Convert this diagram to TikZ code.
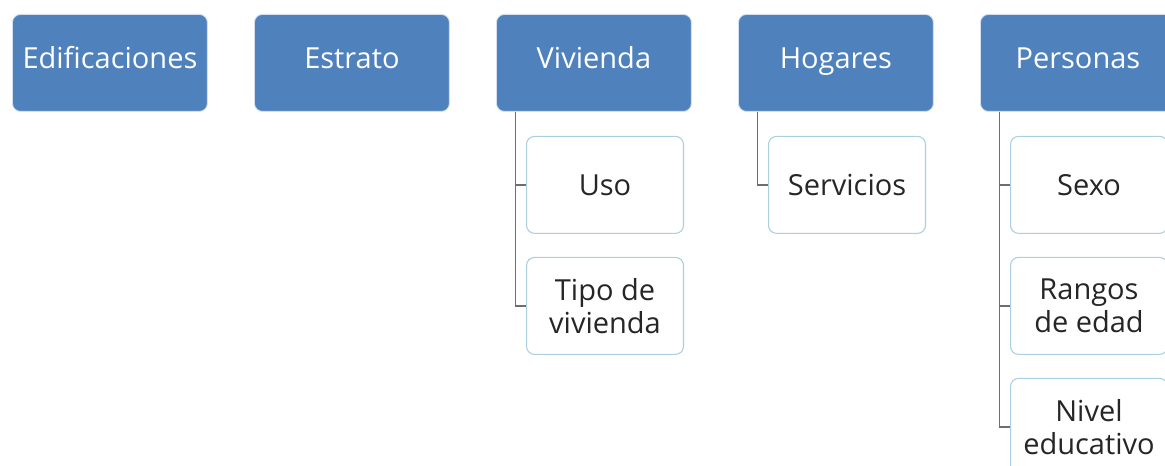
\documentclass[tikz,border=0pt]{standalone}
\usepackage{fontspec}
\setmainfont{Open Sans}
\usepackage{tikz}
\usetikzlibrary{positioning}

\definecolor{azulnivel}{RGB}{79,129,189}
\definecolor{bordehijo}{RGB}{170,207,222}
\definecolor{gris conector}{RGB}{110,110,110}

\begin{document}
\begin{tikzpicture}[x=0.02cm, y=-0.02cm,
    nivel/.style={draw=white!75!azulnivel, line width=0.5pt, fill=azulnivel, text=white,
        rounded corners=0.16cm, minimum width=3.9cm, minimum height=1.94cm,
        text height=1.5ex, text depth=0.4ex,
        inner sep=0pt, anchor=north west, font=\fontsize{16.5}{19}\selectfont},
    hijo/.style={draw=bordehijo, line width=0.6pt, fill=white, text=black!85,
        rounded corners=0.16cm, minimum width=3.14cm, minimum height=1.94cm,
        inner sep=0pt, align=center, font=\fontsize{16.5}{19}\selectfont},
    enlace/.style={draw=gris conector, line width=1pt}]
    \useasboundingbox (0,0) rectangle (1165,466);
    \clip (0,0) rectangle (1165,466);

    % primer nivel
    \node[nivel] (edif) at (12,14)  {Edificaciones};
    \node[nivel] (estr) at (254,14) {Estrato};
    \node[nivel] (viv)  at (496,14) {Vivienda};
    \node[nivel] (hog)  at (738,14) {Hogares};
    \node[nivel] (pers) at (980,14) {Personas};

    % segundo nivel
    \node[hijo, below right=0.48cm and 0.6cm of viv.south west] (uso) {Uso};
    \node[hijo, below=0.46cm of uso] (tipo) {Tipo de\\vivienda};

    \node[hijo, below right=0.48cm and 0.6cm of hog.south west] (serv) {Servicios};

    \node[hijo, below right=0.48cm and 0.6cm of pers.south west] (sexo) {Sexo};
    \node[hijo, below=0.46cm of sexo] (rang) {Rangos\\de edad};
    \node[hijo, below=0.46cm of rang] (educ) {Nivel\\educativo};

    % conectores
    \foreach \padre/\hijos in {viv/{uso,tipo}, hog/{serv}, pers/{sexo,rang,educ}}
        \foreach \h in \hijos
            \draw[enlace] ([xshift=0.39cm]\padre.south west) |- (\h.west);
\end{tikzpicture}
\end{document}
